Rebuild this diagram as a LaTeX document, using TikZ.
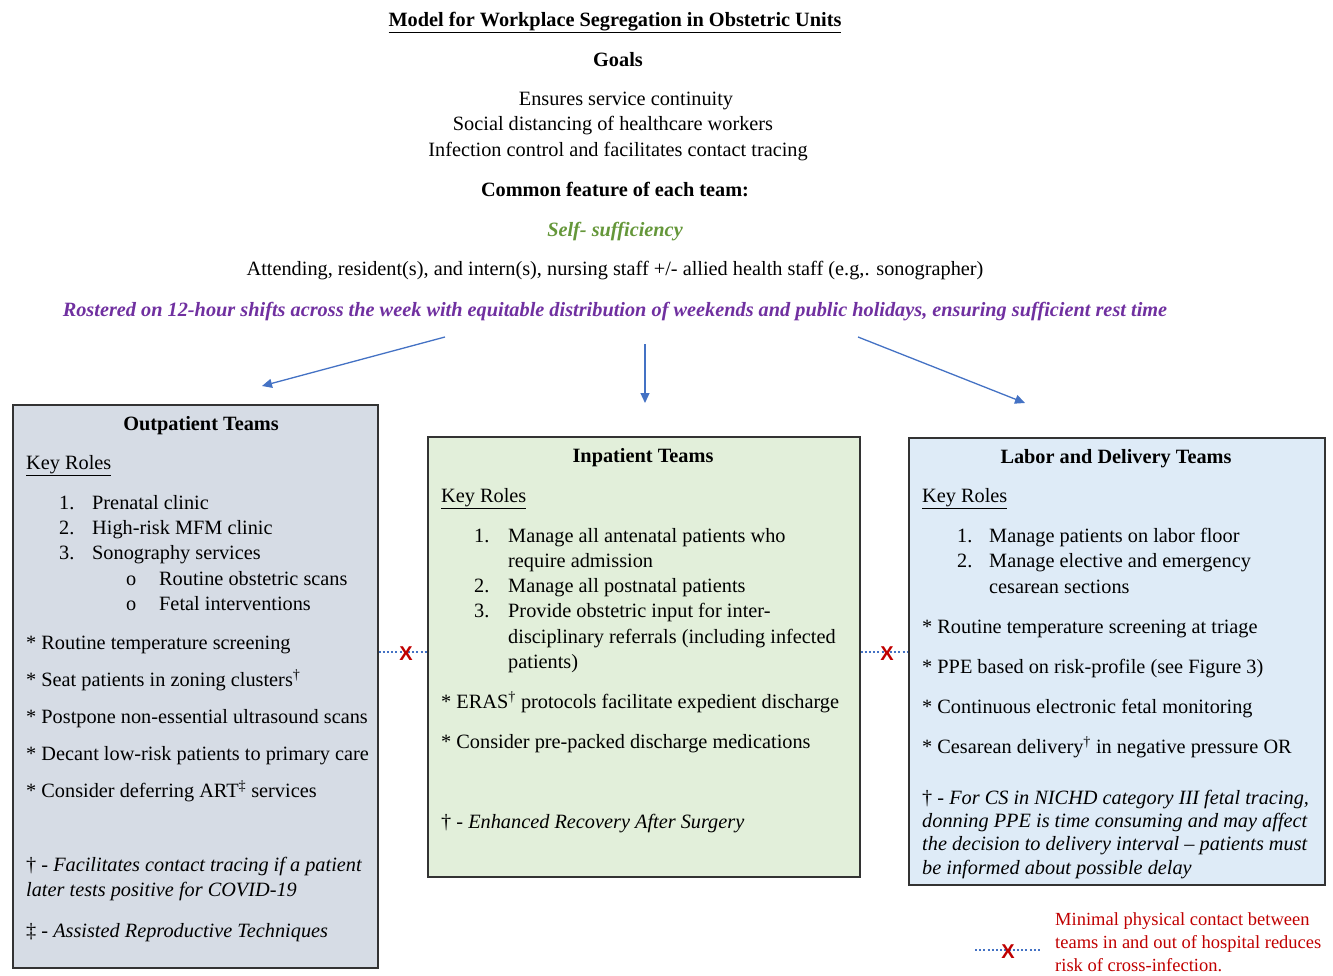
\documentclass[tikz,border=0pt]{standalone}
\usepackage{fontspec}
\setmainfont{Liberation Serif}
\newfontfamily\xfont{Liberation Sans}
\usetikzlibrary{arrows.meta}
\definecolor{outfill}{HTML}{D6DCE5}
\definecolor{infill}{HTML}{E2EFDA}
\definecolor{ldfill}{HTML}{DEEBF7}
\definecolor{myblue}{HTML}{4472C4}
\definecolor{mypurple}{HTML}{7030A0}
\definecolor{mygreen}{HTML}{65973A}
\definecolor{myred}{HTML}{C00000}
\newcommand\bodysz{\fontsize{20.3}{25}\selectfont}
\newcommand\legsz{\fontsize{18.5}{23}\selectfont}
\begin{document}
\begin{tikzpicture}[x=1pt,y=-1pt,
  font=\bodysz,
  tl/.style={anchor=base west,inner sep=0pt},
  tc/.style={anchor=base,inner sep=0pt},
  bold/.style={font=\bodysz\bfseries},
  teambox/.style={draw=black!80,line width=1.5pt,anchor=north west,inner sep=0pt},
  flow/.style={draw=myblue,line width=1.3pt,-{Triangle[length=10pt,width=9pt]}},
  sep/.style={draw=myblue,line width=1.8pt,dash pattern=on 2pt off 2.2pt},
  xmark/.style={text=myred,font=\xfont\bfseries\fontsize{20}{20}\selectfont,inner sep=0pt}]
\useasboundingbox (0,0) rectangle (1333,976);
% boxes
\node[teambox,fill=outfill,minimum width=365pt,minimum height=563pt] (outp) at (12,404) {};
\node[teambox,fill=infill,minimum width=432pt,minimum height=440pt] (inp) at (427,436) {};
\node[teambox,fill=ldfill,minimum width=416pt,minimum height=447pt] (ld) at (908,437) {};
% arrows
\coordinate (a1s) at (445,337); \coordinate (a1e) at (262,386);
\coordinate (a2s) at (645,344); \coordinate (a2e) at (645,403);
\coordinate (a3s) at (858,337); \coordinate (a3e) at (1025,403);
\draw[flow] (a1s) -- (a1e);
\draw[flow] (a2s) -- (a2e);
\draw[flow] (a3s) -- (a3e);
\begin{scope}[yshift=-1.6pt]
% header
\node[tc,bold] (title) at (615,25) {\underline{Model for Workplace Segregation in Obstetric Units}};
\node[tc,bold] (goals) at (618,65) {Goals};
\node[tc] (g1) at (626,104) {Ensures service continuity};
\node[tc] (g2) at (613,129) {Social distancing of healthcare workers};
\node[tc] (g3) at (618,155) {Infection control and facilitates contact tracing};
\node[tc,bold] (common) at (615,195) {Common feature of each team:};
\node[tc,font=\bodysz\bfseries\itshape,text=mygreen] (self) at (615,235) {Self- sufficiency};
\node[tc] (staff) at (615,274) {Attending, resident(s), and intern(s), nursing staff +/- allied health staff (e.g,. sonographer)};
\node[tc,font=\bodysz\bfseries\itshape,text=mypurple] (roster) at (615,315) {Rostered on 12-hour shifts across the week with equitable distribution of weekends and public holidays, ensuring sufficient rest time};
% outpatient text
\node[tc,bold] (oh) at (201,429) {Outpatient Teams};
\node[tl] (ok) at (26,468) {\underline{Key Roles}};
\node[tl] (on1) at (59,508) {1.}; \node[tl] (o1) at (92,508) {Prenatal clinic};
\node[tl] (on2) at (59,533) {2.}; \node[tl] (o2) at (92,533) {High-risk MFM clinic};
\node[tl] (on3) at (59,558) {3.}; \node[tl] (o3) at (92,558) {Sonography services};
\node[tl] (ob1) at (126,584) {o}; \node[tl] (o3a) at (159,584) {Routine obstetric scans};
\node[tl] (ob2) at (126,609) {o}; \node[tl] (o3b) at (159,609) {Fetal interventions};
\node[tl] (os1) at (26,648) {* Routine temperature screening};
\node[tl] (os2) at (26,685) {* Seat patients in zoning clusters\textsuperscript{†}};
\node[tl] (os3) at (26,722) {* Postpone non-essential ultrasound scans};
\node[tl] (os4) at (26,759) {* Decant low-risk patients to primary care};
\node[tl] (os5) at (26,796) {* Consider deferring ART\textsuperscript{‡} services};
\node[tl] (of1) at (26,870) {† - \textit{Facilitates contact tracing if a patient}};
\node[tl] (of2) at (26,895) {\textit{later tests positive for COVID-19}};
\node[tl] (of3) at (26,936) {‡ - \textit{Assisted Reproductive Techniques}};
% inpatient text
\node[tc,bold] (ih) at (643,461) {Inpatient Teams};
\node[tl] (ik) at (441,501) {\underline{Key Roles}};
\node[tl] (in1) at (474,541) {1.}; \node[tl] (i1) at (508,541) {Manage all antenatal patients who};
\node[tl] (i1b) at (508,566) {require admission};
\node[tl] (in2) at (474,591) {2.}; \node[tl] (i2) at (508,591) {Manage all postnatal patients};
\node[tl] (in3) at (474,616) {3.}; \node[tl] (i3) at (508,616) {Provide obstetric input for inter-};
\node[tl] (i3b) at (508,642) {disciplinary referrals (including infected};
\node[tl] (i3c) at (508,667) {patients)};
\node[tl] (is1) at (441,707) {* ERAS\textsuperscript{†} protocols facilitate expedient discharge};
\node[tl] (is2) at (441,747) {* Consider pre-packed discharge medications};
\node[tl] (if1) at (441,827) {† - \textit{Enhanced Recovery After Surgery}};
% labor and delivery text
\node[tc,bold] (lh) at (1116,462) {Labor and Delivery Teams};
\node[tl] (lk) at (922,501) {\underline{Key Roles}};
\node[tl] (ln1) at (957,541) {1.}; \node[tl] (l1) at (989,541) {Manage patients on labor floor};
\node[tl] (ln2) at (957,566) {2.}; \node[tl] (l2) at (989,566) {Manage elective and emergency};
\node[tl] (l2b) at (989,592) {cesarean sections};
\node[tl] (ls1) at (922,632) {* Routine temperature screening at triage};
\node[tl] (ls2) at (922,672) {* PPE based on risk-profile (see Figure 3)};
\node[tl] (ls3) at (922,712) {* Continuous electronic fetal monitoring};
\node[tl] (ls4) at (922,752) {* Cesarean delivery\textsuperscript{†} in negative pressure OR};
\node[tl] (lf1) at (922,803) {† - \textit{For CS in NICHD category III fetal tracing,}};
\node[tl] (lf2) at (922,826) {\textit{donning PPE is time consuming and may affect}};
\node[tl] (lf3) at (922,849) {\textit{the decision to delivery interval – patients must}};
\node[tl] (lf4) at (922,873) {\textit{be informed about possible delay}};
\end{scope}
% separators between teams
\draw[sep] (outp.east |- 0,652) -- (inp.west |- 0,652);
\node[xmark] (x1) at (406,654) {X};
\draw[sep] (inp.east |- 0,652) -- (ld.west |- 0,652);
\node[xmark] (x2) at (887,654) {X};
% legend
\coordinate (lgs) at (975,950); \coordinate (lge) at (1042,950);
\draw[sep] (lgs) -- (lge);
\node[xmark] (x3) at (1008,952) {X};
\node[tl,text=myred,font=\legsz] (lt1) at (1055,925) {Minimal physical contact between};
\node[tl,text=myred,font=\legsz] (lt2) at (1055,948) {teams in and out of hospital reduces};
\node[tl,text=myred,font=\legsz] (lt3) at (1055,971) {risk of cross-infection.};
\end{tikzpicture}
\end{document}
